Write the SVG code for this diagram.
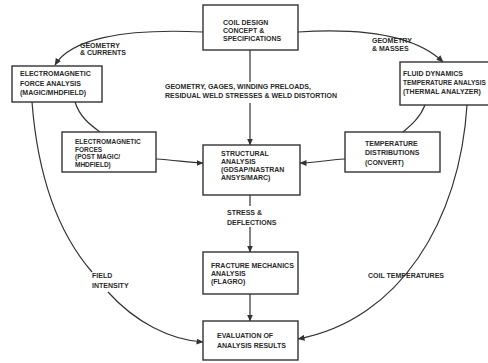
<svg xmlns="http://www.w3.org/2000/svg" width="488" height="363" viewBox="0 0 488 363">
<style>
  .box { fill: #fff; stroke: #333; stroke-width: 1.4; }
  .t { font-family: "Liberation Sans", Arial, sans-serif; font-weight: bold; font-size: 7px; fill: #2a2a2a; }
  .s { font-size: 6.5px; }
  .c { fill: none; stroke: #333; stroke-width: 1.2; }
</style>
<defs>
  <marker id="ah" markerWidth="7" markerHeight="6" refX="6.5" refY="3" orient="auto" markerUnits="userSpaceOnUse">
    <path d="M0,0 L7,3 L0,6 Z" fill="#333"/>
  </marker>
</defs>
<rect width="488" height="363" fill="#fff"/>

<g id="connectors">
  <path class="c" d="M203,32 C120,28 70,40 55,65" marker-end="url(#ah)"/>
  <path class="c" d="M298,32 C360,28 415,35 443,62" marker-end="url(#ah)"/>
  <path class="c" d="M250,50 V82"/>
  <path class="c" d="M250,103 V145" marker-end="url(#ah)"/>
  <path class="c" d="M75,102 C80,118 92,126 100,132"/>
  <path class="c" d="M32,102 C38,180 60,235 92,272"/>
  <path class="c" d="M108,292 C135,322 170,340 203,342" marker-end="url(#ah)"/>
  <path class="c" d="M156,159 C175,160 190,163 203,163" marker-end="url(#ah)"/>
  <path class="c" d="M345,159 C325,160 315,163 300,163" marker-end="url(#ah)"/>
  <path class="c" d="M425,105 C420,118 410,126 403,132"/>
  <path class="c" d="M467,105 C460,220 400,320 298,339" marker-end="url(#ah)"/>
  <path class="c" d="M250,195 V206"/>
  <path class="c" d="M250,227 V252" marker-end="url(#ah)"/>
  <path class="c" d="M250,294 V321" marker-end="url(#ah)"/>
  <text class="t" x="80" y="47.5">GEOMETRY</text>
  <text class="t" x="80" y="55">&amp; CURRENTS</text>
  <text class="t" x="372" y="43">GEOMETRY</text>
  <text class="t" x="372" y="51">&amp; MASSES</text>
  <text class="t" x="165" y="89">GEOMETRY, GAGES, WINDING PRELOADS,</text>
  <text class="t" x="165" y="98">RESIDUAL WELD STRESSES &amp; WELD DISTORTION</text>
  <text class="t" x="227" y="215">STRESS &amp;</text>
  <text class="t" x="227" y="225">DEFLECTIONS</text>
  <text class="t" x="92" y="278">FIELD</text>
  <text class="t" x="92" y="288">INTENSITY</text>
  <text class="t" x="368" y="278">COIL TEMPERATURES</text>
</g>

<g id="coil-design">
  <rect class="box" x="203" y="5" width="95" height="45"/>
  <text class="t" x="223" y="25">COIL DESIGN</text>
  <text class="t" x="223" y="33">CONCEPT &amp;</text>
  <text class="t" x="223" y="41">SPECIFICATIONS</text>
</g>

<g id="em-force-analysis">
  <rect class="box" x="12" y="66" width="90" height="36"/>
  <text class="t" x="20" y="76">ELECTROMAGNETIC</text>
  <text class="t" x="20" y="85.5">FORCE ANALYSIS</text>
  <text class="t" x="20" y="95">(MAGIC/MHDFIELD)</text>
</g>

<g id="fluid-dynamics">
  <rect class="box" x="400" y="62" width="92" height="43"/>
  <text class="t" x="403" y="76">FLUID DYNAMICS</text>
  <text class="t s" x="403" y="85">TEMPERATURE ANALYSIS</text>
  <text class="t" x="403" y="94">(THERMAL ANALYZER)</text>
</g>

<g id="em-forces">
  <rect class="box" x="62" y="132" width="94" height="40"/>
  <text class="t s" x="75" y="144">ELECTROMAGNETIC</text>
  <text class="t s" x="75" y="151.5">FORCES</text>
  <text class="t s" x="75" y="159">(POST MAGIC/</text>
  <text class="t s" x="75" y="166.5">MHDFIELD)</text>
</g>

<g id="temperature-distributions">
  <rect class="box" x="345" y="132" width="95" height="40"/>
  <text class="t" x="365" y="146">TEMPERATURE</text>
  <text class="t" x="365" y="155">DISTRIBUTIONS</text>
  <text class="t" x="365" y="164.5">(CONVERT)</text>
</g>

<g id="structural-analysis">
  <rect class="box" x="203" y="145" width="97" height="50"/>
  <text class="t" x="221" y="156">STRUCTURAL</text>
  <text class="t" x="221" y="164">ANALYSIS</text>
  <text class="t" x="221" y="172">(GDSAP/NASTRAN</text>
  <text class="t" x="221" y="180">ANSYS/MARC)</text>
</g>

<g id="fracture-mechanics">
  <rect class="box" x="203" y="252" width="95" height="42"/>
  <text class="t" x="211" y="268">FRACTURE MECHANICS</text>
  <text class="t" x="211" y="276">ANALYSIS</text>
  <text class="t" x="211" y="284">(FLAGRO)</text>
</g>

<g id="evaluation">
  <rect class="box" x="203" y="321" width="95" height="39"/>
  <text class="t" x="217" y="338">EVALUATION OF</text>
  <text class="t" x="217" y="348">ANALYSIS RESULTS</text>
</g>
</svg>
